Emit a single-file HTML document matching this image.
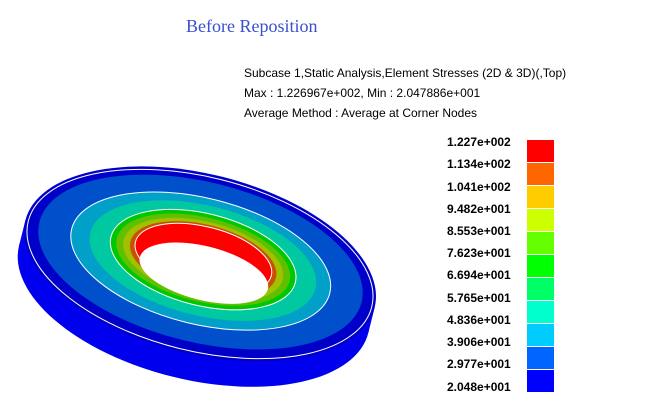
<!DOCTYPE html>
<html><head><style>
body{margin:0;background:#fff;width:653px;height:417px;overflow:hidden;position:relative;font-family:"Liberation Sans",sans-serif}
.t{position:absolute;font-size:12px;color:#000;white-space:nowrap}
.l{position:absolute;left:447px;font-size:12px;color:#000;font-weight:bold}
.b{position:absolute;left:527px;width:27px;height:22px}
</style></head><body>
<div style="position:absolute;left:186px;top:16px;font-family:'Liberation Serif',serif;font-size:18px;color:#3a4fd0">Before Reposition</div>
<div class="t" style="left:244px;top:66px">Subcase 1,Static Analysis,Element Stresses (2D &amp; 3D)(,Top)</div>
<div class="t" style="left:244px;top:86px">Max : 1.226967e+002, Min : 2.047886e+001</div>
<div class="t" style="left:244px;top:106px">Average Method : Average at Corner Nodes</div>
<svg width="653" height="417" style="position:absolute;left:0;top:0">
<g transform="translate(200,264) rotate(14)">
<ellipse cx="0" cy="26" rx="180" ry="90" fill="#0000ee"/>
<rect x="-180" y="0" width="360" height="26" fill="#0000f0"/>
<ellipse cx="0" cy="0" rx="180" ry="90" fill="#0000c8"/>
<ellipse cx="0" cy="0" rx="177" ry="87" fill="none" stroke="#fff" stroke-width="1"/>
<ellipse cx="0" cy="-2" rx="166" ry="80" fill="#0050cc"/>
<ellipse cx="0" cy="-3" rx="133" ry="63" fill="#00a0c8" stroke="#fff" stroke-width="1"/>
<ellipse cx="2" cy="-4" rx="116" ry="55" fill="#00c8a0"/>
<ellipse cx="2" cy="-5" rx="95" ry="46" fill="#00c800" stroke="#fff" stroke-width="1"/>
<ellipse cx="2" cy="-5" rx="89" ry="42" fill="#60c000"/>
<ellipse cx="2" cy="-5" rx="82" ry="38" fill="#a0c000"/>
<ellipse cx="2" cy="-5" rx="75" ry="35" fill="#c85000"/>
<ellipse cx="2" cy="-6" rx="70" ry="32" fill="#ff0000" stroke="#fff" stroke-width="1"/>
<ellipse cx="6" cy="8" rx="66" ry="27" fill="#fff"/>
</g>
</svg>
<div class="b" style="top:140px;background:#ff0000"></div>
<div class="b" style="top:163px;background:#ff6600"></div>
<div class="b" style="top:186px;background:#ffcc00"></div>
<div class="b" style="top:209px;background:#ccff00"></div>
<div class="b" style="top:232px;background:#66ff00"></div>
<div class="b" style="top:255px;background:#00ff00"></div>
<div class="b" style="top:278px;background:#00ff66"></div>
<div class="b" style="top:301px;background:#00ffcc"></div>
<div class="b" style="top:324px;background:#00ccff"></div>
<div class="b" style="top:347px;background:#0066ff"></div>
<div class="b" style="top:370px;background:#0000ff"></div>
<div class="l" style="top:135px">1.227e+002</div>
<div class="l" style="top:157px">1.134e+002</div>
<div class="l" style="top:180px">1.041e+002</div>
<div class="l" style="top:202px">9.482e+001</div>
<div class="l" style="top:224px">8.553e+001</div>
<div class="l" style="top:246px">7.623e+001</div>
<div class="l" style="top:268px">6.694e+001</div>
<div class="l" style="top:291px">5.765e+001</div>
<div class="l" style="top:313px">4.836e+001</div>
<div class="l" style="top:335px">3.906e+001</div>
<div class="l" style="top:357px">2.977e+001</div>
<div class="l" style="top:380px">2.048e+001</div>
</body></html>
